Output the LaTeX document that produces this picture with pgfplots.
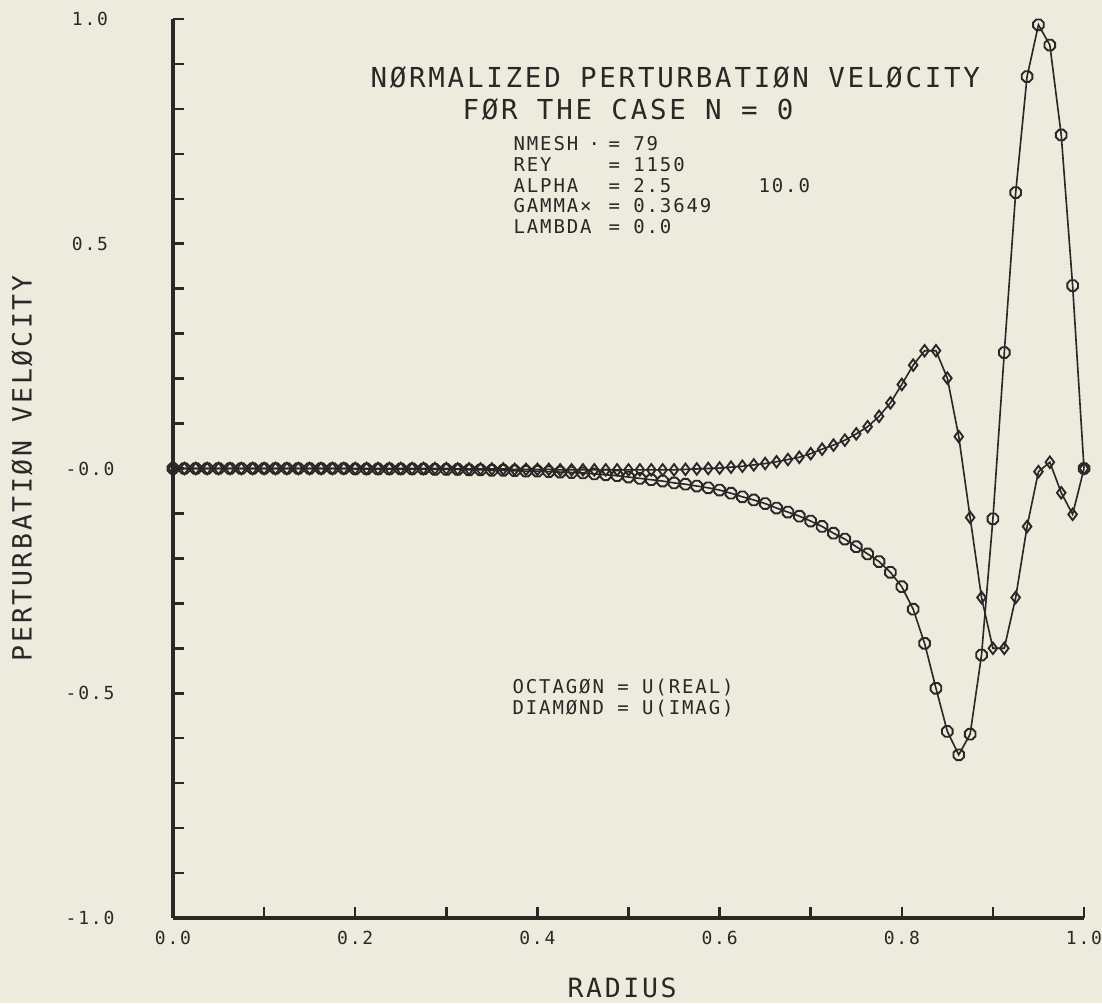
\documentclass[border=0pt]{standalone}
\usepackage{pgfplots}
\pgfplotsset{compat=1.18}
\usepackage{pgfplotstable}
\usepackage{fontspec}
\newfontfamily\plot{DejaVu Sans Mono}[LetterSpace=10]
\newcommand\titlefont{\plot\fontsize{11}{13}\selectfont}
\newcommand\infofont{\plot\fontsize{7.6}{9}\selectfont}
\newcommand\tickfont{\plot\fontsize{7.2}{8}\selectfont}
\newcommand\labelfont{\plot\fontsize{10.6}{12}\selectfont}
\definecolor{paper}{RGB}{236,235,222}
\definecolor{ink}{RGB}{45,38,38}

% plotter octagon
\pgfdeclareplotmark{octagon}{%
  \pgfpathmoveto{\pgfpointpolar{22.5}{\pgfplotmarksize}}%
  \pgfpathlineto{\pgfpointpolar{67.5}{\pgfplotmarksize}}%
  \pgfpathlineto{\pgfpointpolar{112.5}{\pgfplotmarksize}}%
  \pgfpathlineto{\pgfpointpolar{157.5}{\pgfplotmarksize}}%
  \pgfpathlineto{\pgfpointpolar{202.5}{\pgfplotmarksize}}%
  \pgfpathlineto{\pgfpointpolar{247.5}{\pgfplotmarksize}}%
  \pgfpathlineto{\pgfpointpolar{292.5}{\pgfplotmarksize}}%
  \pgfpathlineto{\pgfpointpolar{337.5}{\pgfplotmarksize}}%
  \pgfpathclose\pgfusepathqstroke}

% radius, U(real), U(imag)
\pgfplotstableread{
x       re      im
0.0000  0.000   0.000
0.0125  0.000   0.000
0.0250  0.000   0.000
0.0375  0.000   0.000
0.0500  0.000   0.000
0.0625  0.000   0.000
0.0750  0.000   0.000
0.0875  0.000   0.000
0.1000  0.000   0.000
0.1125  0.000   0.000
0.1250  0.000   0.000
0.1375  0.000   0.000
0.1500  0.000   0.000
0.1625  0.000   0.000
0.1750  0.000   0.000
0.1875  0.000   0.000
0.2000  -0.001  0.000
0.2125  -0.001  0.000
0.2250  -0.001  0.000
0.2375  -0.001  0.000
0.2500  -0.001  0.000
0.2625  -0.001  0.000
0.2750  -0.001  0.000
0.2875  -0.002  0.000
0.3000  -0.002  0.000
0.3125  -0.002  -0.001
0.3250  -0.003  -0.001
0.3375  -0.003  -0.001
0.3500  -0.004  -0.001
0.3625  -0.004  -0.001
0.3750  -0.005  -0.002
0.3875  -0.006  -0.002
0.4000  -0.006  -0.002
0.4125  -0.007  -0.002
0.4250  -0.008  -0.003
0.4375  -0.009  -0.003
0.4500  -0.010  -0.003
0.4625  -0.012  -0.003
0.4750  -0.014  -0.003
0.4875  -0.016  -0.003
0.5000  -0.019  -0.003
0.5125  -0.022  -0.003
0.5250  -0.025  -0.003
0.5375  -0.028  -0.003
0.5500  -0.032  -0.003
0.5625  -0.035  -0.002
0.5750  -0.039  -0.001
0.5875  -0.043  0.000
0.6000  -0.048  0.001
0.6125  -0.055  0.003
0.6250  -0.063  0.005
0.6375  -0.070  0.008
0.6500  -0.078  0.011
0.6625  -0.088  0.015
0.6750  -0.097  0.020
0.6875  -0.106  0.025
0.7000  -0.117  0.033
0.7125  -0.129  0.043
0.7250  -0.144  0.052
0.7375  -0.157  0.063
0.7500  -0.174  0.077
0.7625  -0.190  0.093
0.7750  -0.207  0.116
0.7875  -0.231  0.146
0.8000  -0.263  0.187
0.8125  -0.313  0.230
0.8250  -0.389  0.262
0.8375  -0.489  0.262
0.8500  -0.585  0.201
0.8625  -0.637  0.071
0.8750  -0.591  -0.109
0.8875  -0.415  -0.287
0.9000  -0.112  -0.400
0.9125  0.258   -0.400
0.9250  0.614   -0.287
0.9375  0.872   -0.129
0.9500  0.987   -0.007
0.9625  0.942   0.014
0.9750  0.742   -0.054
0.9875  0.407   -0.102
1.0000  0.000   0.000
}\uvel

\begin{document}
\begin{tikzpicture}
\path[fill=paper, use as bounding box] (-69.2pt,-34pt) rectangle (371.6pt,367.2pt);
\begin{axis}[
  at={(0,0)}, anchor=south west,
  scale only axis, width=364.4pt, height=359.6pt,
  xmin=0, xmax=1, ymin=-1, ymax=1,
  axis lines*=left,
  axis line style={ink, line width=1.3pt},
  tick align=inside,
  major tick length=4.4pt, minor tick length=4.4pt,
  every tick/.style={ink, line width=1pt},
  xtick={0,0.2,0.4,0.6,0.8,1},
  minor xtick={0.1,0.3,0.5,0.7,0.9},
  xticklabels={0.0,0.2,0.4,0.6,0.8,1.0},
  ytick={-1,-0.5,0,0.5,1},
  minor ytick={-0.9,-0.8,-0.7,-0.6,-0.4,-0.3,-0.2,-0.1,0.1,0.2,0.3,0.4,0.6,0.7,0.8,0.9},
  yticklabels={-1.0,-0.5,-0.0,0.5,1.0},
  xticklabel style={font=\tickfont, text=ink, anchor=center, yshift=-8pt},
  yticklabel style={font=\tickfont, text=ink, anchor=center, xshift=-33.2pt},
  xlabel={RADIUS},
  xlabel style={font=\labelfont, text=ink, at={(axis description cs:0.493,-0.078)}, anchor=center},
  ylabel={PERTURBATIØN VELØCITY},
  ylabel style={font=\labelfont, text=ink, at={(axis description cs:-0.1658,0.5)}, anchor=center},
  clip=false,
]
\addplot[ink, line width=0.65pt, mark=octagon, mark size=2.3pt,
  mark options={line width=0.75pt}] table[x=x, y=re] {\uvel};
\addplot[ink, line width=0.65pt, mark=diamond, mark size=2.3pt,
  mark options={line width=0.75pt}] table[x=x, y=im] {\uvel};
\end{axis}

% title and run parameters
\begin{scope}[every node/.style={inner sep=0pt, anchor=west, text=ink}]
\node[font=\titlefont] at (78.8pt,336pt) {NØRMALIZED PERTURBATIØN VELØCITY};
\node[font=\titlefont] at (115.6pt,323.2pt) {FØR THE CASE N = 0};
\node[font=\infofont] at (136pt,309.6pt) {NMESH};
\node[font=\infofont] at (166pt,309.6pt) {.};
\node[font=\infofont] at (136pt,301.2pt) {REY};
\node[font=\infofont] at (136pt,293pt) {ALPHA};
\node[font=\infofont] at (136pt,284.8pt) {GAMMA×};
\node[font=\infofont] at (136pt,276.4pt) {LAMBDA};
\node[font=\infofont] at (174pt,309.6pt) {= 79};
\node[font=\infofont] at (174pt,301.2pt) {= 1150};
\node[font=\infofont] at (174pt,293pt) {= 2.5};
\node[font=\infofont] at (174pt,284.8pt) {= 0.3649};
\node[font=\infofont] at (174pt,276.4pt) {= 0.0};
\node[font=\infofont] at (234pt,293pt) {10.0};
\node[font=\infofont] at (135.6pt,92pt) {OCTAGØN = U(REAL)};
\node[font=\infofont] at (135.6pt,83.6pt) {DIAMØND = U(IMAG)};
\end{scope}
\end{tikzpicture}
\end{document}
